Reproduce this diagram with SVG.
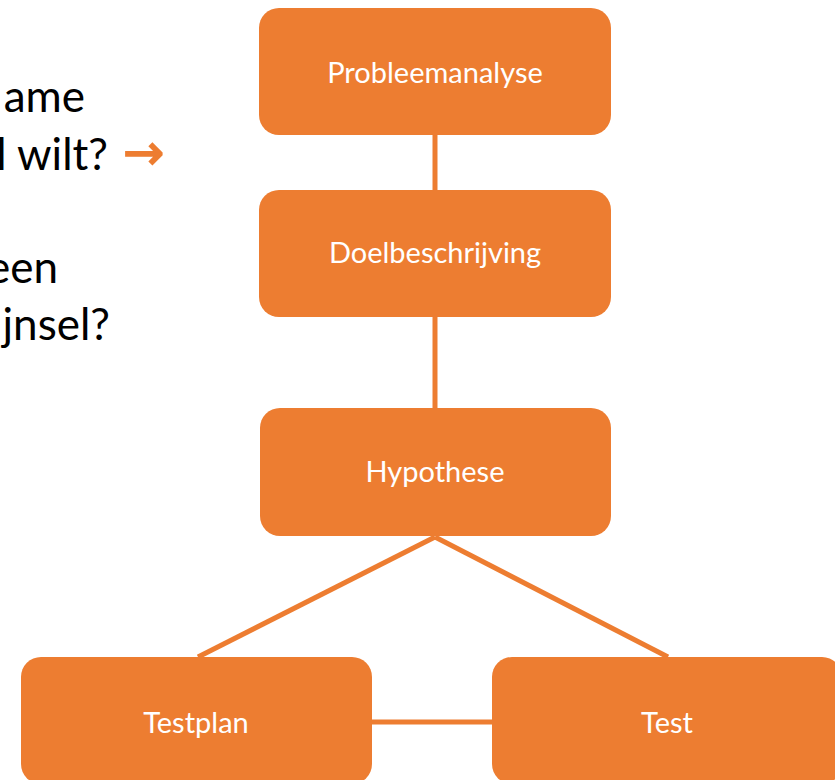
<svg xmlns="http://www.w3.org/2000/svg" width="835" height="780" viewBox="0 0 835 780">
<style>
.box{fill:#ED7D31}
.lbl{fill:#FFFFFF;font-family:Lato,"Open Sans","Liberation Sans",sans-serif;font-size:29px;text-anchor:middle}
.side{fill:#000000;font-family:Lato,"Open Sans","Liberation Sans",sans-serif;font-size:44px;text-anchor:end}
.conn{stroke:#ED7D31;stroke-width:5;fill:none}
</style>
<rect width="835" height="780" fill="#FFFFFF"/>
<g id="side-text">
<text class="side" x="85" y="112">ame</text>
<text class="side" x="108" y="170">l wilt?</text>
<text x="123" y="169" style="fill:#ED7D31;stroke:#ED7D31;stroke-width:1.6;font-family:'DejaVu Sans',sans-serif;font-size:49px">→</text>
<text class="side" x="58" y="283">een</text>
<text class="side" x="110" y="340">jnsel?</text>
</g>
<g id="connectors">
<line class="conn" x1="435" y1="135" x2="435" y2="190"/>
<line class="conn" x1="435" y1="317" x2="435" y2="408"/>
<line class="conn" x1="435" y1="537" x2="198" y2="657"/>
<line class="conn" x1="435" y1="537" x2="668" y2="657"/>
<line class="conn" x1="372" y1="722" x2="492" y2="722"/>
</g>
<g id="probleemanalyse">
<rect class="box" x="259" y="8" width="352" height="127" rx="20"/>
<text class="lbl" x="435" y="83">Probleemanalyse</text>
</g>
<g id="doelbeschrijving">
<rect class="box" x="259" y="190" width="352" height="127" rx="20"/>
<text class="lbl" x="435" y="263">Doelbeschrijving</text>
</g>
<g id="hypothese">
<rect class="box" x="260" y="408" width="351" height="128" rx="20"/>
<text class="lbl" x="435" y="482">Hypothese</text>
</g>
<g id="testplan">
<rect class="box" x="21" y="657" width="351" height="127" rx="20"/>
<text class="lbl" x="196" y="733">Testplan</text>
</g>
<g id="test">
<rect class="box" x="492" y="657" width="350" height="127" rx="20"/>
<text class="lbl" x="667" y="733">Test</text>
</g>
</svg>
